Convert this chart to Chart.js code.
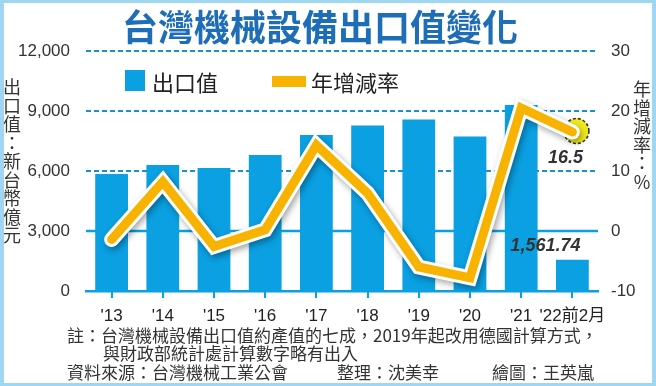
<!DOCTYPE html>
<html><head><meta charset="utf-8">
<script src="https://cdn.jsdelivr.net/npm/chart.js@4/dist/chart.umd.min.js"></script>
<style>
html,body{margin:0;padding:0;background:#fff;}
#wrap{position:relative;width:656px;height:386px;overflow:hidden;font-family:"Noto Sans CJK TC","Noto Sans CJK SC",sans-serif;color:#333;}
#frame{position:absolute;left:0;top:0;width:656px;height:386px;box-sizing:border-box;border:3px solid #9fd6f1;border-left-width:4px;border-right-width:4px;pointer-events:none;}
canvas{position:absolute;left:0;top:0;}
.t{position:absolute;white-space:nowrap;}
#title{left:0;width:640px;top:4px;height:42px;text-align:center;font-size:36px;font-weight:700;color:#1d6db7;line-height:42px;}
.vt{position:absolute;width:24px;text-align:center;font-size:18px;line-height:18.5px;color:#333;}
.foot{font-size:17px;line-height:19px;color:#333;}
.leg{font-size:22px;line-height:26px;color:#222;}
</style></head>
<body>
<div id="wrap">
<canvas id="c" width="656" height="386"></canvas>
<div id="title" class="t">台灣機械設備出口值變化</div>
<div class="t" style="left:125px;top:70px;width:20px;height:21px;background:#0aa0e2;"></div>
<div class="t leg" style="left:152px;top:68px;">出口值</div>
<div class="t" style="left:272px;top:76px;width:34px;height:11px;background:#f7b300;"></div>
<div class="t leg" style="left:311px;top:68px;">年增減率</div>
<div class="vt" style="left:0px;top:77px;">出<br>口<br>值<br>：<br>新<br>台<br>幣<br>億<br>元</div>
<div class="vt" style="left:630px;top:79px;">年<br>增<br>減<br>率<br>：<br>%</div>
<div class="t foot" style="left:67px;top:325px;">註：台灣機械設備出口值約產值的七成，2019年起改用德國計算方式，</div>
<div class="t foot" style="left:103px;top:343px;">與財政部統計處計算數字略有出入</div>
<div class="t foot" style="left:67px;top:362px;">資料來源：台灣機械工業公會</div>
<div class="t foot" style="left:337px;top:362px;">整理：沈美幸</div>
<div class="t foot" style="left:492px;top:362px;">繪圖：王英嵐</div>
<div id="frame"></div>
</div>
<script>
const categories = ["'13","'14","'15","'16","'17","'18","'19","'20","'21","'22前2月"];
const exportValues = [5850, 6300, 6150, 6800, 7800, 8270, 8580, 7720, 9300, 1561.74];
const growthRates = [-1.4, 8.2, -2.6, 0.2, 14.3, 6.3, -6.0, -7.8, 20.5, 16.5];
const leftTicks = [0, 3000, 6000, 9000, 12000];
const rightTicks = [-10, 0, 10, 20, 30];

const BLUE = '#0aa0e2';
const GRID = '#1592d2';
const ORANGE = '#f7b300';
const TICKFONT = {family: '"Liberation Sans","Noto Sans CJK TC",sans-serif', size: 17};

const decor = {
  id: 'decor',
  beforeDatasetsDraw(chart) {
    const ctx = chart.ctx;
    const a = chart.chartArea;
    const y = chart.scales.y, y1 = chart.scales.y1, x = chart.scales.x;
    ctx.save();
    ctx.strokeStyle = GRID;
    ctx.lineWidth = 2;
    ctx.setLineDash([5, 3]);
    leftTicks.forEach(v => {
      if (v === 0) return;
      const py = Math.round(y.getPixelForValue(v));
      ctx.beginPath(); ctx.moveTo(a.left, py); ctx.lineTo(a.right, py); ctx.stroke();
    });
    ctx.setLineDash([]);
    ctx.strokeStyle = BLUE;
    ctx.lineWidth = 2.5;
    const pz = Math.round(y1.getPixelForValue(0));
    ctx.beginPath(); ctx.moveTo(a.left, pz); ctx.lineTo(a.right, pz); ctx.stroke();
    ctx.lineWidth = 2;
    categories.forEach((c, i) => {
      const px = Math.round(x.getPixelForValue(i));
      ctx.beginPath(); ctx.moveTo(px, a.bottom); ctx.lineTo(px, a.bottom + 7); ctx.stroke();
    });
    ctx.restore();
  },
  beforeDatasetDraw(chart, args) {
    if (args.index === 1) {
      const ctx = chart.ctx;
      ctx.save();
      ctx.shadowColor = 'rgba(0,0,0,0.35)';
      ctx.shadowBlur = 6;
      ctx.shadowOffsetX = 2;
      ctx.shadowOffsetY = 3;
    }
  },
  afterDatasetDraw(chart, args) {
    const ctx = chart.ctx;
    if (args.index === 1) ctx.restore();
    if (args.index === 0) {
      const meta = chart.getDatasetMeta(2);
      const last = meta.data[meta.data.length - 1];
      ctx.save();
      ctx.beginPath();
      ctx.arc(last.x + 4, last.y - 1, 12.5, 0, Math.PI * 2);
      ctx.fillStyle = '#f2ea1c';
      ctx.fill();
      ctx.setLineDash([3, 2]);
      ctx.lineWidth = 1.6;
      ctx.strokeStyle = '#333';
      ctx.stroke();
      ctx.restore();
    }
  },
  afterDatasetsDraw(chart) {
    const ctx = chart.ctx;
    ctx.save();
    ctx.font = 'italic bold 18px "Liberation Sans", sans-serif';
    ctx.fillStyle = '#333';
    ctx.textAlign = 'center';
    ctx.textBaseline = 'middle';
    const lm = chart.getDatasetMeta(2);
    const lp = lm.data[lm.data.length - 1];
    ctx.fillText(growthRates[growthRates.length - 1].toFixed(1), lp.x - 7, lp.y + 26);
    const bm = chart.getDatasetMeta(0);
    const bp = bm.data[bm.data.length - 1];
    const v = exportValues[exportValues.length - 1];
    ctx.fillText(v.toLocaleString('en-US', {minimumFractionDigits: 2}), bp.x - 27, bp.y - 14);
    ctx.restore();
  }
};

new Chart(document.getElementById('c'), {
  data: {
    labels: categories,
    datasets: [
      {type: 'bar', data: exportValues, yAxisID: 'y', backgroundColor: BLUE, order: 3,
       categoryPercentage: 1, barPercentage: 0.64},
      {type: 'line', data: growthRates, yAxisID: 'y1', borderColor: '#ffffff', borderWidth: 15,
       pointRadius: 0, tension: 0, borderJoinStyle: 'miter', borderCapStyle: 'round', order: 2},
      {type: 'line', data: growthRates, yAxisID: 'y1', borderColor: ORANGE, borderWidth: 9,
       pointRadius: 0, tension: 0, borderJoinStyle: 'miter', borderCapStyle: 'round', order: 1}
    ]
  },
  options: {
    responsive: false,
    animation: false,
    devicePixelRatio: 1,
    layout: {padding: {left: 0, right: 0, top: 51, bottom: 0}},
    plugins: {legend: {display: false}, tooltip: {enabled: false}},
    scales: {
      x: {
        offset: true,
        grid: {display: false},
        border: {display: true, color: BLUE, width: 2.5},
        ticks: {color: '#222', font: TICKFONT, padding: 7, maxRotation: 0, autoSkip: false},
        afterFit(s) { s.height = 95; }
      },
      y: {
        position: 'left', min: 0, max: 12000,
        afterBuildTicks(s) { s.ticks = leftTicks.map(v => ({value: v})); },
        ticks: {color: '#333', font: TICKFONT, padding: 8,
                callback: v => v.toLocaleString('en-US')},
        grid: {display: false},
        border: {display: false},
        afterFit(s) { s.width = 86; }
      },
      y1: {
        position: 'right', min: -10, max: 30,
        afterBuildTicks(s) { s.ticks = rightTicks.map(v => ({value: v})); },
        ticks: {color: '#333', font: TICKFONT, padding: 5},
        grid: {display: false},
        border: {display: false},
        afterFit(s) { s.width = 58; }
      }
    }
  },
  plugins: [decor]
});
</script>
</body></html>
